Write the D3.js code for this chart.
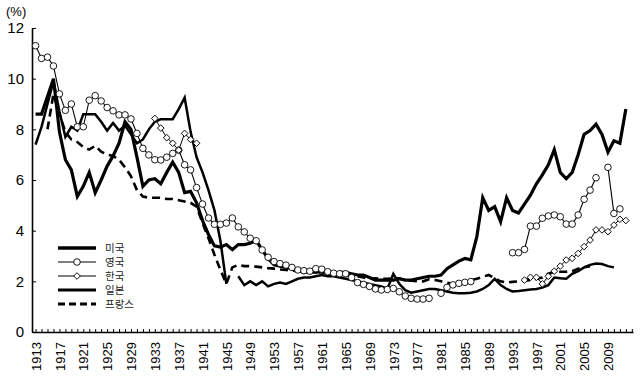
<!DOCTYPE html>
<html><head><meta charset="utf-8">
<script src="https://cdn.jsdelivr.net/npm/d3@7"></script>
<style>body{margin:0;background:#fff}svg{display:block}</style>
</head><body>
<svg id="c" width="640" height="382"></svg>
<script>
const years = d3.range(1913, 2013);
const yTicks = [0, 2, 4, 6, 8, 10, 12];
const xLabelYears = d3.range(1913, 2013, 4);
const unitLabel = "(%)";
const seriesNames = ["미국", "영국", "한국", "일본", "프랑스"];

const us = [8.6,8.6,9.3,10.0,7.9,6.8,6.4,5.35,5.75,6.3,
5.5,6.0,6.55,6.95,7.45,8.3,8.0,6.9,5.75,6.0,
6.05,5.85,6.3,6.7,6.3,5.5,5.55,5.1,4.4,3.85,
3.4,3.35,3.45,3.25,3.45,3.45,3.5,3.62,3.24,2.9,
2.65,2.6,2.55,2.5,2.45,2.35,2.4,2.35,2.4,2.35,
2.3,2.35,2.35,2.3,2.25,2.25,2.15,2.05,2.05,2.05,
2.05,2.1,2.05,2.05,2.1,2.15,2.2,2.2,2.25,2.5,
2.65,2.8,2.9,2.85,3.75,5.3,4.8,4.95,4.35,5.3,
4.8,4.7,5.05,5.4,5.85,6.2,6.6,7.2,6.3,6.05,
6.3,7.0,7.8,7.95,8.2,7.8,7.1,7.55,7.45,8.8];

const uk = [11.3,10.8,10.85,10.5,9.4,8.75,9.0,8.1,8.1,9.15,
9.33,9.12,8.86,8.73,8.57,8.57,8.41,7.84,7.25,6.99,
6.8,6.79,6.9,7.05,7.18,6.6,6.4,5.7,5.05,4.5,
4.25,4.25,4.3,4.5,4.15,3.95,3.7,3.6,3.24,2.95,
2.78,2.7,2.64,2.55,2.45,2.42,2.4,2.5,2.48,2.38,
2.32,2.3,2.3,2.15,1.95,1.88,1.8,1.7,1.66,1.68,
1.72,1.59,1.42,1.33,1.3,1.3,1.33,null,1.53,1.76,
1.86,1.92,1.96,1.99,null,null,null,null,null,null,
3.13,3.13,3.26,4.18,4.18,4.49,4.58,4.62,4.55,4.26,
4.26,4.62,5.24,5.6,6.09,null,6.5,4.68,4.86,null];

const korea = [null,null,null,null,null,null,null,null,null,null,
null,null,null,null,null,null,null,null,null,null,
8.43,8.05,7.67,7.45,7.18,7.84,7.6,7.45,null,null,
null,null,null,null,null,null,null,null,null,null,
null,null,null,null,null,null,null,null,null,null,
null,null,null,null,null,null,null,null,null,null,
null,null,null,null,null,null,null,null,null,null,
null,null,null,null,null,null,null,null,null,null,
null,null,2.05,2.16,2.16,1.9,2.2,2.4,2.6,2.84,
2.91,3.1,3.37,3.63,4.03,4.03,3.96,4.22,4.45,4.4];

const japan = [7.4,8.1,9.0,9.9,8.7,7.7,8.1,7.95,8.6,8.6,
8.6,8.3,7.95,8.25,7.95,8.15,7.8,7.45,7.6,8.0,
8.3,8.4,8.4,8.4,8.8,9.25,7.9,6.9,6.3,5.6,
4.8,3.6,1.9,null,2.2,1.85,2.0,1.85,2.0,1.8,
1.9,1.95,1.9,2.0,2.1,2.15,2.15,2.2,2.25,2.2,
2.2,2.15,2.1,2.05,2.0,1.95,1.9,1.85,1.8,1.7,
2.3,1.9,1.65,1.55,1.6,1.65,1.7,1.7,1.65,1.6,
1.55,1.53,1.53,1.55,1.6,1.7,1.85,2.1,1.85,1.7,
1.6,1.62,1.65,1.68,1.7,1.75,1.85,2.15,2.12,2.1,
2.3,2.4,2.55,2.65,2.7,2.68,2.6,2.55,null,null];

const france = [null,null,8.0,9.4,8.6,7.9,7.6,7.5,7.3,7.2,
7.35,7.12,7.0,6.95,6.8,6.5,6.15,5.6,5.35,5.3,
5.3,5.3,5.25,5.25,5.2,5.15,5.1,4.95,4.3,3.7,
3.05,2.45,1.9,2.55,2.65,2.6,2.6,2.58,2.55,2.52,
2.5,2.47,2.45,2.42,2.4,2.38,2.35,2.35,2.35,2.32,
2.3,2.3,2.25,2.22,2.2,2.15,2.1,2.12,2.1,2.1,
2.12,2.12,2.05,2.02,2.0,2.0,2.08,2.05,2.0,1.95,
1.9,1.9,1.95,2.05,2.1,2.18,2.25,2.12,2.0,1.95,
1.98,2.0,2.02,2.05,2.1,2.15,2.3,2.38,2.38,2.38,
2.4,2.5,2.55,2.6,null,null,null,null,null,null];

const svg = d3.select("#c");
const x = d3.scaleLinear().domain([1912.4, 2013.2]).range([32, 633]);
const y = d3.scaleLinear().domain([0, 12]).range([332, 28]);
const FONT = "'Liberation Sans', Arial, sans-serif";
const KFONT = "'Noto Sans CJK KR', sans-serif";

const series = [
  {name: seriesNames[0], vals: us, w: 3.2, dash: null, marker: null, lw: 3.4},
  {name: seriesNames[1], vals: uk, w: 1.1, dash: null, marker: "circle", lw: 1.1},
  {name: seriesNames[2], vals: korea, w: 1.0, dash: null, marker: "diamond", lw: 1.0},
  {name: seriesNames[3], vals: japan, w: 2.5, dash: null, marker: null, lw: 2.8},
  {name: seriesNames[4], vals: france, w: 2.6, dash: "8,5", marker: null, lw: 2.8}
];

// axes
const yAxis = d3.axisLeft(y).tickValues(yTicks).tickSize(-4).tickSizeOuter(0).tickPadding(8);
const gy = svg.append("g").attr("transform", "translate(32,0)").call(yAxis);
gy.select(".domain").attr("stroke-width", 1.6);
gy.selectAll("text").attr("font-family", FONT).attr("font-size", 15).attr("fill", "#000");

const xAxis = d3.axisBottom(x).tickValues(years.concat([2013])).tickSize(-3).tickSizeOuter(0)
  .tickFormat(d => xLabelYears.includes(d) ? d : "");
const gx = svg.append("g").attr("transform", "translate(0,332)").call(xAxis);
gx.select(".domain").attr("stroke-width", 1.6);
gx.selectAll(".tick line").attr("stroke-width", 1);
gx.selectAll("text")
  .attr("font-family", FONT).attr("font-size", 13).attr("fill", "#000")
  .attr("transform", "rotate(-90)").attr("text-anchor", "end")
  .attr("x", -10).attr("y", 0).attr("dy", "0.36em");

svg.append("text").attr("x", 6).attr("y", 16).attr("font-family", FONT).attr("font-size", 13).text(unitLabel);

// lines
const plot = svg.append("g");
series.forEach(s => {
  const pts = years.map((yr, i) => [yr, s.vals[i]]);
  const line = d3.line().defined(d => d[1] != null).x(d => x(d[0])).y(d => y(d[1]));
  plot.append("path").attr("d", line(pts)).attr("fill", "none").attr("stroke", "#000")
    .attr("stroke-width", s.w).attr("stroke-dasharray", s.dash).attr("stroke-linejoin", "miter");
});
// markers
const diamond = d3.symbol().type(d3.symbolSquare).size(22);
series.forEach(s => {
  if (!s.marker) return;
  const pts = years.map((yr, i) => [yr, s.vals[i]]).filter(d => d[1] != null);
  if (s.marker === "circle") {
    plot.selectAll(null).data(pts).enter().append("circle")
      .attr("cx", d => x(d[0])).attr("cy", d => y(d[1])).attr("r", 3.3)
      .attr("fill", "#fff").attr("stroke", "#000").attr("stroke-width", 0.9);
  } else {
    plot.selectAll(null).data(pts).enter().append("path").attr("d", diamond)
      .attr("transform", d => `translate(${x(d[0])},${y(d[1])}) rotate(45)`)
      .attr("fill", "#fff").attr("stroke", "#000").attr("stroke-width", 0.9);
  }
});

// legend
const lg = svg.append("g");
const rowsY = [248, 262, 276, 290, 304];
series.forEach((s, i) => {
  const yy = rowsY[i];
  lg.append("line").attr("x1", 58).attr("x2", 96).attr("y1", yy).attr("y2", yy)
    .attr("stroke", "#000").attr("stroke-width", s.lw)
    .attr("stroke-dasharray", s.dash ? "7,4" : null);
  if (s.marker === "circle") lg.append("circle").attr("cx", 77).attr("cy", yy).attr("r", 3.3)
    .attr("fill", "#fff").attr("stroke", "#000").attr("stroke-width", 0.9);
  if (s.marker === "diamond") lg.append("path").attr("d", diamond)
    .attr("transform", `translate(77,${yy}) rotate(45)`)
    .attr("fill", "#fff").attr("stroke", "#000").attr("stroke-width", 0.9);
  lg.append("text").attr("x", 105).attr("y", yy).attr("dy", "0.35em")
    .attr("font-family", KFONT).attr("font-size", 10.5).attr("fill", "#222").text(s.name);
});
</script>
</body></html>
